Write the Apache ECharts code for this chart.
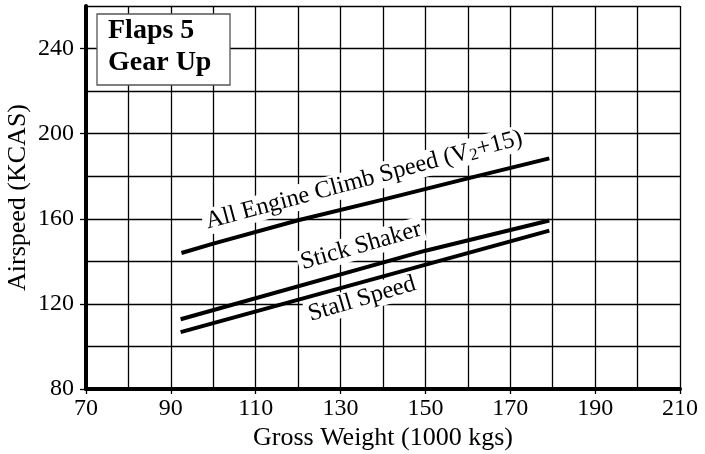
<!DOCTYPE html>
<html><head><meta charset="utf-8">
<script src="https://cdn.jsdelivr.net/npm/echarts@6/dist/echarts.min.js"></script>
<style>html,body{margin:0;padding:0;background:#fff}#c{width:705px;height:454px}</style>
</head><body><div id="c"></div>
<script>
// Tick labels
const xTicks = [70, 90, 110, 130, 150, 170, 190, 210];
const yTicks = [80, 120, 160, 200, 240];
// All Engine Climb Speed (V2+15)
const climbW = [92.5, 100, 120, 140, 160, 179.2];
const climbV = [143.9, 148.3, 159.3, 169.0, 179.0, 188.4];
// Stick Shaker
const shakerW = [92.3, 150, 179.2];
const shakerV = [112.8, 145.0, 159.2];
// Stall Speed
const stallW = [92.3, 179.2];
const stallV = [106.7, 154.4];

const FF = 'Liberation Serif';
const pairs = (xs, ys) => xs.map((x, i) => [x, ys[i]]);
const lineSeries = (name, xs, ys) => ({
  name, type: 'line', data: pairs(xs, ys), symbol: 'none', silent: true,
  xAxisIndex: 0, yAxisIndex: 0,
  lineStyle: { color: '#000', width: 4, cap: 'butt' }, z: 5
});
const gridLine = { show: true, lineStyle: { color: '#000', width: 1.3 } };

const chart = echarts.init(document.getElementById('c'), null, { renderer: 'canvas' });
const rot = d => d * Math.PI / 180;
chart.setOption({
  animation: false,
  backgroundColor: '#fff',
  grid: { left: 86, right: 25, top: 6, bottom: 65, containLabel: false, outerBoundsMode: 'none' },
  xAxis: [{
    type: 'value', min: 70, max: 210, interval: 10,
    name: 'Gross Weight (1000 kgs)', nameLocation: 'middle', nameGap: 36, nameMoveOverlap: false,
    nameTextStyle: { fontFamily: FF, fontSize: 26, color: '#000' },
    axisLine: { show: true, lineStyle: { color: '#000', width: 4 } },
    axisTick: { show: true, customValues: xTicks, length: 5, lineStyle: { color: '#000', width: 1.3 } },
    axisLabel: { customValues: xTicks, fontFamily: FF, fontSize: 24, color: '#000', margin: 8 },
    splitLine: { show: false }, z: 6
  }, {
    type: 'value', min: 70, max: 210, interval: 10, position: 'bottom',
    axisLine: { show: false }, axisTick: { show: false }, axisLabel: { show: false },
    splitLine: gridLine
  }],
  yAxis: [{
    type: 'value', min: 80, max: 260, interval: 20,
    name: 'Airspeed (KCAS)', nameLocation: 'middle', nameGap: 55, nameMoveOverlap: false,
    nameTextStyle: { fontFamily: FF, fontSize: 26, color: '#000' },
    axisLine: { show: true, lineStyle: { color: '#000', width: 4 } },
    axisTick: { show: true, customValues: yTicks, length: 6, lineStyle: { color: '#000', width: 1.3 } },
    axisLabel: { customValues: yTicks, fontFamily: FF, fontSize: 24, color: '#000', margin: 12 },
    splitLine: { show: false }, z: 6
  }, {
    type: 'value', min: 80, max: 260, interval: 20, position: 'left',
    axisLine: { show: false }, axisTick: { show: false }, axisLabel: { show: false },
    splitLine: gridLine
  }],
  series: [
    lineSeries('All Engine Climb Speed (V2+15)', climbW, climbV),
    lineSeries('Stick Shaker', shakerW, shakerV),
    lineSeries('Stall Speed', stallW, stallV)
  ],
  graphic: [
    { type: 'rect', shape: { x: 97, y: 14, width: 133, height: 71 },
      style: { fill: '#fff', stroke: '#555', lineWidth: 1.3 }, z: 10 },
    { type: 'text', x: 108, y: 15, z: 11,
      style: { text: 'Flaps 5\nGear Up', font: 'bold 28px "Liberation Serif"', fill: '#000',
               lineHeight: 32, align: 'left', verticalAlign: 'top' } },
    { type: 'text', x: 364, y: 180, rotation: rot(15), z: 4,
      style: { text: '{n|All Engine Climb Speed (V}{s|2}{n|+15)}', align: 'center', verticalAlign: 'middle',
               backgroundColor: '#fff', padding: [0, 3],
               rich: { n: { fontFamily: FF, fontSize: 24.5, fill: '#000', lineHeight: 26 },
                       s: { fontFamily: FF, fontSize: 17, fill: '#000', lineHeight: 17, verticalAlign: 'bottom', padding: [14, 0, 0, 0] } } } },
    { type: 'text', x: 361, y: 246, rotation: rot(16), z: 4,
      style: { text: 'Stick Shaker', align: 'center', verticalAlign: 'middle', fontFamily: FF, fontSize: 24.5,
               fill: '#000', backgroundColor: '#fff', padding: [0, 3] } },
    { type: 'text', x: 362, y: 299, rotation: rot(16.5), z: 4,
      style: { text: 'Stall Speed', align: 'center', verticalAlign: 'middle', fontFamily: FF, fontSize: 24.5,
               fill: '#000', backgroundColor: '#fff', padding: [0, 3] } }
  ]
});
</script></body></html>
